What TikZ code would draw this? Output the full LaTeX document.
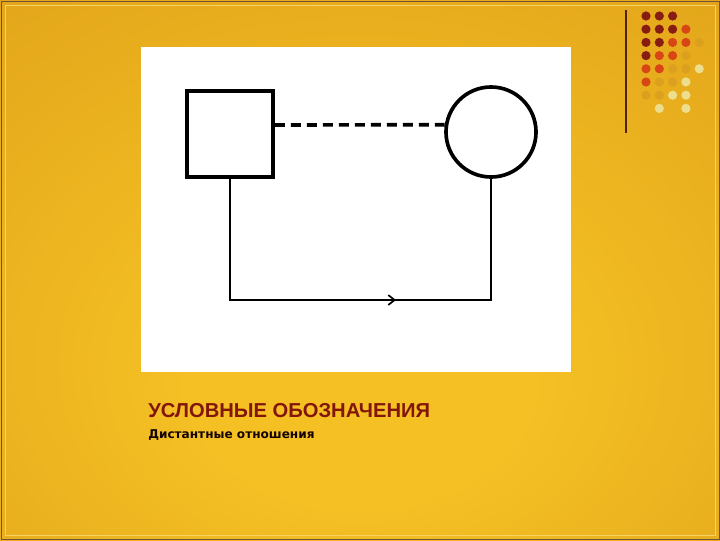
\documentclass[tikz,border=0pt]{standalone}
\usepackage{fontspec}
\setmainfont{Liberation Sans}
\newfontfamily\subfont{DejaVu Sans}
\usetikzlibrary{arrows.meta}

\definecolor{bgcenter}{RGB}{244,192,36}
\definecolor{bgmid}{RGB}{222,158,24}
\definecolor{bgedge}{RGB}{190,120,10}
\definecolor{titlered}{RGB}{130,22,12}
\definecolor{dotA}{RGB}{135,28,18}
\definecolor{dotB}{RGB}{215,70,20}
\definecolor{dotC}{RGB}{218,160,30}
\definecolor{dotD}{RGB}{236,222,140}
\definecolor{rulebrown}{RGB}{80,36,8}

\pgfdeclareradialshading{slidebg}{\pgfpoint{0bp}{-12bp}}{%
  color(0bp)=(bgcenter); color(12bp)=(bgcenter); color(48bp)=(bgmid); color(75bp)=(bgedge)}

\tikzset{
  person/.style={draw=black, line width=2.6pt, fill=white, inner sep=0pt},
  farline/.style={line width=2.6pt, dash pattern=on 0.25cm off 0.15cm},
  relation/.style={line width=1.2pt},
}

\begin{document}
\begin{tikzpicture}[x=0.025cm, y=-0.025cm]
\useasboundingbox (0,0) rectangle (720,540);
% background of the slide
\shade[shading=slidebg] (0,0) rectangle (720,540);
\draw[rulebrown!80, line width=0.6pt] (1,1) rectangle (719,539);
\draw[bgcenter!70!white, line width=0.4pt] (5,5) rectangle (715,535);
% decoration top right
\draw[rulebrown, line width=1pt] (626,10) -- (626,133);
\fill[dotA] ( 646.0 , 16.0 ) circle (4.6);
\fill[dotA] ( 659.3 , 16.0 ) circle (4.6);
\fill[dotA] ( 672.6 , 16.0 ) circle (4.6);
\fill[dotA] ( 646.0 , 29.2 ) circle (4.6);
\fill[dotA] ( 659.3 , 29.2 ) circle (4.6);
\fill[dotA] ( 672.6 , 29.2 ) circle (4.6);
\fill[dotB] ( 685.9 , 29.2 ) circle (4.6);
\fill[dotA] ( 646.0 , 42.4 ) circle (4.6);
\fill[dotA] ( 659.3 , 42.4 ) circle (4.6);
\fill[dotB] ( 672.6 , 42.4 ) circle (4.6);
\fill[dotB] ( 685.9 , 42.4 ) circle (4.6);
\fill[dotC] ( 699.2 , 42.4 ) circle (4.6);
\fill[dotA] ( 646.0 , 55.6 ) circle (4.6);
\fill[dotB] ( 659.3 , 55.6 ) circle (4.6);
\fill[dotB] ( 672.6 , 55.6 ) circle (4.6);
\fill[dotC] ( 685.9 , 55.6 ) circle (4.6);
\fill[dotB] ( 646.0 , 68.8 ) circle (4.6);
\fill[dotB] ( 659.3 , 68.8 ) circle (4.6);
\fill[dotC] ( 672.6 , 68.8 ) circle (4.6);
\fill[dotC] ( 685.9 , 68.8 ) circle (4.6);
\fill[dotD] ( 699.2 , 68.8 ) circle (4.6);
\fill[dotB] ( 646.0 , 82.0 ) circle (4.6);
\fill[dotC] ( 659.3 , 82.0 ) circle (4.6);
\fill[dotC] ( 672.6 , 82.0 ) circle (4.6);
\fill[dotD] ( 685.9 , 82.0 ) circle (4.6);
\fill[dotC] ( 646.0 , 95.2 ) circle (4.6);
\fill[dotC] ( 659.3 , 95.2 ) circle (4.6);
\fill[dotD] ( 672.6 , 95.2 ) circle (4.6);
\fill[dotD] ( 685.9 , 95.2 ) circle (4.6);
\fill[dotD] ( 659.3 , 108.4 ) circle (4.6);
\fill[dotD] ( 685.9 , 108.4 ) circle (4.6);
% picture on white
\fill[white] (141,47) rectangle (571,372);
\node[person, rectangle, minimum size=2.15cm] (male) at (230,134) {};
\node[person, circle, minimum size=2.25cm] (female) at (491,132) {};
\draw[farline] ([yshift=0.225cm]male.east) -- (female.171);
\coordinate (base) at (0,300);
\coordinate (tip) at (396,300);
\draw[relation] (male.south) -- (male.south |- base) -- (tip);
\draw[relation, -{Straight Barb[length=4.5pt, width=7pt]}] (male.south |- base) -- (tip);
\draw[relation] (tip) -- (female.south |- base) -- (female.south);
% captions
\node[anchor=base west, inner sep=0pt, text=titlered, font=\bfseries\fontsize{14.35}{16}\selectfont] (title) at (148,417) {УСЛОВНЫЕ ОБОЗНАЧЕНИЯ};
\node[anchor=base west, inner sep=0pt, text=black!85!titlered, font=\subfont\bfseries\fontsize{8.6}{10}\selectfont] (subtitle) at (148,438) {Дистантные отношения};
\end{tikzpicture}
\end{document}
